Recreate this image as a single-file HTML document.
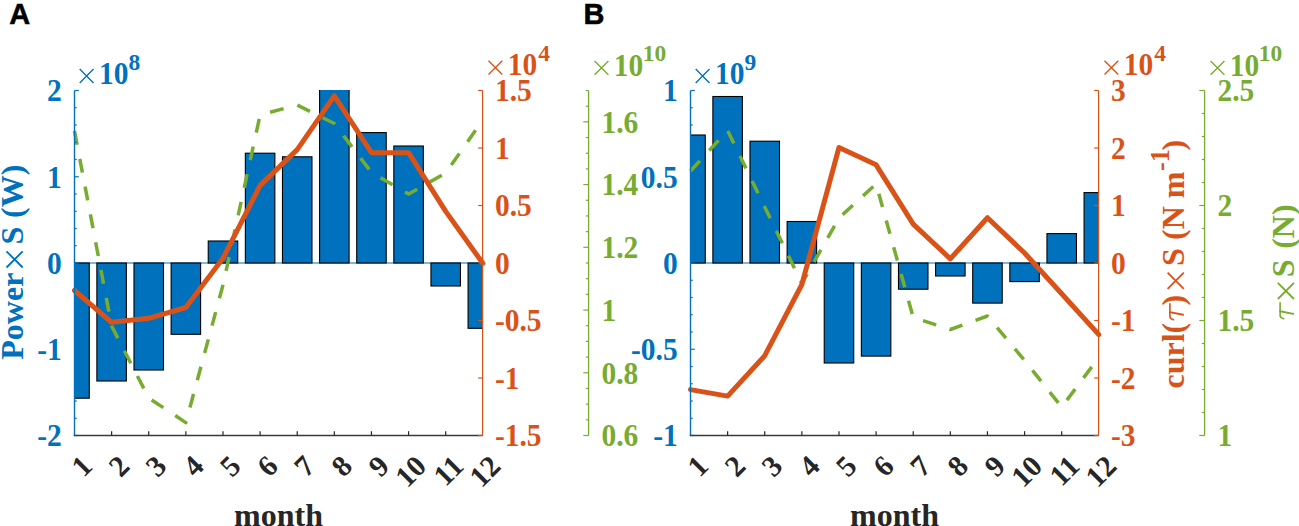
<!DOCTYPE html>
<html><head><meta charset="utf-8"><style>
html,body{margin:0;padding:0;background:#fff;overflow:hidden;}
svg{display:block;}
text{font-family:"Liberation Serif",serif;font-weight:bold;}
</style></head><body>
<svg width="1299" height="526" viewBox="0 0 1299 526">
<rect width="1299" height="526" fill="#fff"/>
<line x1="74.5" y1="263" x2="482.6" y2="263" stroke="#0072BD" stroke-width="1.1"/><g clip-path="url(#clipA)"><rect x="59.75" y="263" width="29.5" height="135.2" fill="#0072BD" stroke="#000" stroke-width="1.1"/><rect x="96.87" y="263" width="29.5" height="118" fill="#0072BD" stroke="#000" stroke-width="1.1"/><rect x="133.99" y="263" width="29.5" height="107" fill="#0072BD" stroke="#000" stroke-width="1.1"/><rect x="171.11" y="263" width="29.5" height="71.3" fill="#0072BD" stroke="#000" stroke-width="1.1"/><rect x="208.23" y="241" width="29.5" height="22" fill="#0072BD" stroke="#000" stroke-width="1.1"/><rect x="245.35" y="153.2" width="29.5" height="109.8" fill="#0072BD" stroke="#000" stroke-width="1.1"/><rect x="282.47" y="156.8" width="29.5" height="106.2" fill="#0072BD" stroke="#000" stroke-width="1.1"/><rect x="319.59" y="80" width="29.5" height="183" fill="#0072BD" stroke="#000" stroke-width="1.1"/><rect x="356.71" y="132.6" width="29.5" height="130.4" fill="#0072BD" stroke="#000" stroke-width="1.1"/><rect x="393.83" y="146" width="29.5" height="117" fill="#0072BD" stroke="#000" stroke-width="1.1"/><rect x="430.95" y="263" width="29.5" height="23" fill="#0072BD" stroke="#000" stroke-width="1.1"/><rect x="468.07" y="263" width="29.5" height="65.3" fill="#0072BD" stroke="#000" stroke-width="1.1"/></g><clipPath id="clipA"><rect x="74.5" y="90" width="408.1" height="346"/></clipPath><polyline points="74.5,131 111.62,326 148.74,398 185.86,422.6 222.98,285 260.1,115 297.22,105 334.34,123.5 371.46,172.5 408.58,194 445.7,173 482.82,120" fill="none" stroke="#77AC30" stroke-width="3.5" stroke-dasharray="14 14.3" stroke-linejoin="round"/><polyline points="74.5,290.5 111.62,322.3 148.74,318.3 185.86,307.5 222.98,258.3 260.1,185.4 297.22,149.6 334.34,95.8 371.46,152.7 408.58,152.7 445.7,211.4 482.82,263.3" fill="none" stroke="#D95319" stroke-width="5" stroke-linejoin="round" stroke-linecap="round"/><text x="0" y="10" transform="translate(86.9 460.8) rotate(-45)" text-anchor="end" font-size="29.5" fill="#262626">1</text><text x="0" y="10" transform="translate(124.02 460.8) rotate(-45)" text-anchor="end" font-size="29.5" fill="#262626">2</text><text x="0" y="10" transform="translate(161.14 460.8) rotate(-45)" text-anchor="end" font-size="29.5" fill="#262626">3</text><text x="0" y="10" transform="translate(198.26 460.8) rotate(-45)" text-anchor="end" font-size="29.5" fill="#262626">4</text><text x="0" y="10" transform="translate(235.38 460.8) rotate(-45)" text-anchor="end" font-size="29.5" fill="#262626">5</text><text x="0" y="10" transform="translate(272.5 460.8) rotate(-45)" text-anchor="end" font-size="29.5" fill="#262626">6</text><text x="0" y="10" transform="translate(309.62 460.8) rotate(-45)" text-anchor="end" font-size="29.5" fill="#262626">7</text><text x="0" y="10" transform="translate(346.74 460.8) rotate(-45)" text-anchor="end" font-size="29.5" fill="#262626">8</text><text x="0" y="10" transform="translate(383.86 460.8) rotate(-45)" text-anchor="end" font-size="29.5" fill="#262626">9</text><text x="0" y="10" transform="translate(420.98 460.8) rotate(-45)" text-anchor="end" font-size="29.5" fill="#262626">10</text><text x="0" y="10" transform="translate(458.1 460.8) rotate(-45)" text-anchor="end" font-size="29.5" fill="#262626">11</text><text x="0" y="10" transform="translate(495.22 460.8) rotate(-45)" text-anchor="end" font-size="29.5" fill="#262626">12</text><text x="278.55" y="526" text-anchor="middle" font-size="32" fill="#262626">month</text><line x1="74.5" y1="90.5" x2="74.5" y2="435.5" stroke="#0072BD" stroke-width="1.4"/><line x1="74.5" y1="435.5" x2="78.8" y2="435.5" stroke="#0072BD" stroke-width="1.2"/><line x1="74.5" y1="418.25" x2="76.7" y2="418.25" stroke="#0072BD" stroke-width="1.2"/><line x1="74.5" y1="401" x2="76.7" y2="401" stroke="#0072BD" stroke-width="1.2"/><line x1="74.5" y1="383.75" x2="76.7" y2="383.75" stroke="#0072BD" stroke-width="1.2"/><line x1="74.5" y1="366.5" x2="76.7" y2="366.5" stroke="#0072BD" stroke-width="1.2"/><line x1="74.5" y1="349.25" x2="78.8" y2="349.25" stroke="#0072BD" stroke-width="1.2"/><line x1="74.5" y1="332" x2="76.7" y2="332" stroke="#0072BD" stroke-width="1.2"/><line x1="74.5" y1="314.75" x2="76.7" y2="314.75" stroke="#0072BD" stroke-width="1.2"/><line x1="74.5" y1="297.5" x2="76.7" y2="297.5" stroke="#0072BD" stroke-width="1.2"/><line x1="74.5" y1="280.25" x2="76.7" y2="280.25" stroke="#0072BD" stroke-width="1.2"/><line x1="74.5" y1="263" x2="78.8" y2="263" stroke="#0072BD" stroke-width="1.2"/><line x1="74.5" y1="245.75" x2="76.7" y2="245.75" stroke="#0072BD" stroke-width="1.2"/><line x1="74.5" y1="228.5" x2="76.7" y2="228.5" stroke="#0072BD" stroke-width="1.2"/><line x1="74.5" y1="211.25" x2="76.7" y2="211.25" stroke="#0072BD" stroke-width="1.2"/><line x1="74.5" y1="194" x2="76.7" y2="194" stroke="#0072BD" stroke-width="1.2"/><line x1="74.5" y1="176.75" x2="78.8" y2="176.75" stroke="#0072BD" stroke-width="1.2"/><line x1="74.5" y1="159.5" x2="76.7" y2="159.5" stroke="#0072BD" stroke-width="1.2"/><line x1="74.5" y1="142.25" x2="76.7" y2="142.25" stroke="#0072BD" stroke-width="1.2"/><line x1="74.5" y1="125" x2="76.7" y2="125" stroke="#0072BD" stroke-width="1.2"/><line x1="74.5" y1="107.75" x2="76.7" y2="107.75" stroke="#0072BD" stroke-width="1.2"/><line x1="74.5" y1="90.5" x2="78.8" y2="90.5" stroke="#0072BD" stroke-width="1.2"/><text transform="translate(61.7 101.3) scale(1 1.07)" text-anchor="end" font-size="29.5" fill="#0072BD">2</text><text transform="translate(61.7 187.55) scale(1 1.07)" text-anchor="end" font-size="29.5" fill="#0072BD">1</text><text transform="translate(61.7 273.8) scale(1 1.07)" text-anchor="end" font-size="29.5" fill="#0072BD">0</text><text transform="translate(61.7 360.05) scale(1 1.07)" text-anchor="end" font-size="29.5" fill="#0072BD">-1</text><text transform="translate(61.7 446.3) scale(1 1.07)" text-anchor="end" font-size="29.5" fill="#0072BD">-2</text><line x1="73.8" y1="435.5" x2="482.6" y2="435.5" stroke="#3a3a3a" stroke-width="1.5"/><line x1="111.62" y1="435.5" x2="111.62" y2="431.2" stroke="#262626" stroke-width="1.2"/><line x1="148.74" y1="435.5" x2="148.74" y2="431.2" stroke="#262626" stroke-width="1.2"/><line x1="185.86" y1="435.5" x2="185.86" y2="431.2" stroke="#262626" stroke-width="1.2"/><line x1="222.98" y1="435.5" x2="222.98" y2="431.2" stroke="#262626" stroke-width="1.2"/><line x1="260.1" y1="435.5" x2="260.1" y2="431.2" stroke="#262626" stroke-width="1.2"/><line x1="297.22" y1="435.5" x2="297.22" y2="431.2" stroke="#262626" stroke-width="1.2"/><line x1="334.34" y1="435.5" x2="334.34" y2="431.2" stroke="#262626" stroke-width="1.2"/><line x1="371.46" y1="435.5" x2="371.46" y2="431.2" stroke="#262626" stroke-width="1.2"/><line x1="408.58" y1="435.5" x2="408.58" y2="431.2" stroke="#262626" stroke-width="1.2"/><line x1="445.7" y1="435.5" x2="445.7" y2="431.2" stroke="#262626" stroke-width="1.2"/><line x1="482.6" y1="90.5" x2="482.6" y2="435.5" stroke="#D95319" stroke-width="1.2"/><line x1="482.6" y1="435.5" x2="478.2" y2="435.5" stroke="#D95319" stroke-width="1.2"/><line x1="482.6" y1="378" x2="478.2" y2="378" stroke="#D95319" stroke-width="1.2"/><line x1="482.6" y1="320.5" x2="478.2" y2="320.5" stroke="#D95319" stroke-width="1.2"/><line x1="482.6" y1="263" x2="478.2" y2="263" stroke="#D95319" stroke-width="1.2"/><line x1="482.6" y1="205.5" x2="478.2" y2="205.5" stroke="#D95319" stroke-width="1.2"/><line x1="482.6" y1="148" x2="478.2" y2="148" stroke="#D95319" stroke-width="1.2"/><line x1="482.6" y1="90.5" x2="478.2" y2="90.5" stroke="#D95319" stroke-width="1.2"/><text transform="translate(494.9 101.3) scale(1 1.07)" font-size="29.5" fill="#D95319">1.5</text><text transform="translate(494.9 158.8) scale(1 1.07)" font-size="29.5" fill="#D95319">1</text><text transform="translate(494.9 216.3) scale(1 1.07)" font-size="29.5" fill="#D95319">0.5</text><text transform="translate(494.9 273.8) scale(1 1.07)" font-size="29.5" fill="#D95319">0</text><text transform="translate(494.9 331.3) scale(1 1.07)" font-size="29.5" fill="#D95319">-0.5</text><text transform="translate(494.9 388.8) scale(1 1.07)" font-size="29.5" fill="#D95319">-1</text><text transform="translate(494.9 446.3) scale(1 1.07)" font-size="29.5" fill="#D95319">-1.5</text><line x1="588.6" y1="90.5" x2="588.6" y2="435.5" stroke="#77AC30" stroke-width="1.3"/><line x1="588.6" y1="435.5" x2="583.3" y2="435.5" stroke="#77AC30" stroke-width="1.2"/><line x1="588.6" y1="419.82" x2="585.8" y2="419.82" stroke="#77AC30" stroke-width="1.2"/><line x1="588.6" y1="404.14" x2="585.8" y2="404.14" stroke="#77AC30" stroke-width="1.2"/><line x1="588.6" y1="388.45" x2="585.8" y2="388.45" stroke="#77AC30" stroke-width="1.2"/><line x1="588.6" y1="372.77" x2="583.3" y2="372.77" stroke="#77AC30" stroke-width="1.2"/><line x1="588.6" y1="357.09" x2="585.8" y2="357.09" stroke="#77AC30" stroke-width="1.2"/><line x1="588.6" y1="341.41" x2="585.8" y2="341.41" stroke="#77AC30" stroke-width="1.2"/><line x1="588.6" y1="325.73" x2="585.8" y2="325.73" stroke="#77AC30" stroke-width="1.2"/><line x1="588.6" y1="310.05" x2="583.3" y2="310.05" stroke="#77AC30" stroke-width="1.2"/><line x1="588.6" y1="294.36" x2="585.8" y2="294.36" stroke="#77AC30" stroke-width="1.2"/><line x1="588.6" y1="278.68" x2="585.8" y2="278.68" stroke="#77AC30" stroke-width="1.2"/><line x1="588.6" y1="263" x2="585.8" y2="263" stroke="#77AC30" stroke-width="1.2"/><line x1="588.6" y1="247.32" x2="583.3" y2="247.32" stroke="#77AC30" stroke-width="1.2"/><line x1="588.6" y1="231.64" x2="585.8" y2="231.64" stroke="#77AC30" stroke-width="1.2"/><line x1="588.6" y1="215.95" x2="585.8" y2="215.95" stroke="#77AC30" stroke-width="1.2"/><line x1="588.6" y1="200.27" x2="585.8" y2="200.27" stroke="#77AC30" stroke-width="1.2"/><line x1="588.6" y1="184.59" x2="583.3" y2="184.59" stroke="#77AC30" stroke-width="1.2"/><line x1="588.6" y1="168.91" x2="585.8" y2="168.91" stroke="#77AC30" stroke-width="1.2"/><line x1="588.6" y1="153.23" x2="585.8" y2="153.23" stroke="#77AC30" stroke-width="1.2"/><line x1="588.6" y1="137.55" x2="585.8" y2="137.55" stroke="#77AC30" stroke-width="1.2"/><line x1="588.6" y1="121.86" x2="583.3" y2="121.86" stroke="#77AC30" stroke-width="1.2"/><line x1="588.6" y1="106.18" x2="585.8" y2="106.18" stroke="#77AC30" stroke-width="1.2"/><line x1="588.6" y1="90.5" x2="585.8" y2="90.5" stroke="#77AC30" stroke-width="1.2"/><text transform="translate(601.4 132.66) scale(1 1.07)" font-size="29.5" fill="#77AC30">1.6</text><text transform="translate(601.4 195.39) scale(1 1.07)" font-size="29.5" fill="#77AC30">1.4</text><text transform="translate(601.4 258.12) scale(1 1.07)" font-size="29.5" fill="#77AC30">1.2</text><text transform="translate(601.4 320.85) scale(1 1.07)" font-size="29.5" fill="#77AC30">1</text><text transform="translate(601.4 383.57) scale(1 1.07)" font-size="29.5" fill="#77AC30">0.8</text><text transform="translate(601.4 446.3) scale(1 1.07)" font-size="29.5" fill="#77AC30">0.6</text><path d="M79.7 69.1L93.5 82.9M79.7 82.9L93.5 69.1" stroke="#0072BD" stroke-width="1.35" fill="none" stroke-linecap="butt"/><text transform="translate(98.9 83.7) scale(1 1.07)" font-size="29.5" fill="#0072BD">10</text><text transform="translate(128.4 69.7) scale(1 1.0)" font-size="23.5" fill="#0072BD">8</text><path d="M488.5 60.7L502.3 74.5M488.5 74.5L502.3 60.7" stroke="#D95319" stroke-width="1.35" fill="none" stroke-linecap="butt"/><text transform="translate(507.7 75.3) scale(1 1.07)" font-size="29.5" fill="#D95319">10</text><text transform="translate(538.2 61) scale(1 1.0)" font-size="23.5" fill="#D95319">4</text><path d="M594.6 61L608.4 74.8M594.6 74.8L608.4 61" stroke="#77AC30" stroke-width="1.35" fill="none" stroke-linecap="butt"/><text transform="translate(613.8 75.6) scale(1 1.07)" font-size="29.5" fill="#77AC30">10</text><text transform="translate(642.8 61.4) scale(1 1.0)" font-size="23.5" fill="#77AC30">10</text><text x="9.2" y="24" style="font-family:'Liberation Sans',sans-serif" font-size="29" fill="#000" stroke="#000" stroke-width="0.5">A</text><line x1="690.5" y1="263" x2="1098.6" y2="263" stroke="#0072BD" stroke-width="1.1"/><g clip-path="url(#clipB)"><rect x="675.75" y="135" width="29.5" height="128" fill="#0072BD" stroke="#000" stroke-width="1.1"/><rect x="712.87" y="96.5" width="29.5" height="166.5" fill="#0072BD" stroke="#000" stroke-width="1.1"/><rect x="749.99" y="141.2" width="29.5" height="121.8" fill="#0072BD" stroke="#000" stroke-width="1.1"/><rect x="787.11" y="221.5" width="29.5" height="41.5" fill="#0072BD" stroke="#000" stroke-width="1.1"/><rect x="824.23" y="263" width="29.5" height="100" fill="#0072BD" stroke="#000" stroke-width="1.1"/><rect x="861.35" y="263" width="29.5" height="93.1" fill="#0072BD" stroke="#000" stroke-width="1.1"/><rect x="898.47" y="263" width="29.5" height="26.2" fill="#0072BD" stroke="#000" stroke-width="1.1"/><rect x="935.59" y="263" width="29.5" height="13" fill="#0072BD" stroke="#000" stroke-width="1.1"/><rect x="972.71" y="263" width="29.5" height="40.1" fill="#0072BD" stroke="#000" stroke-width="1.1"/><rect x="1009.83" y="263" width="29.5" height="18.6" fill="#0072BD" stroke="#000" stroke-width="1.1"/><rect x="1046.95" y="233.6" width="29.5" height="29.4" fill="#0072BD" stroke="#000" stroke-width="1.1"/><rect x="1084.07" y="192.6" width="29.5" height="70.4" fill="#0072BD" stroke="#000" stroke-width="1.1"/></g><clipPath id="clipB"><rect x="690.5" y="90" width="408.1" height="346"/></clipPath><polyline points="690.5,171 727.62,130.5 764.74,207 801.86,283.5 838.98,218 876.1,184 913.22,317.5 950.34,329.5 987.46,316 1024.58,360.5 1061.7,407 1098.82,357.5" fill="none" stroke="#77AC30" stroke-width="3.5" stroke-dasharray="13.8 13.95" stroke-linejoin="round"/><polyline points="690.5,389.6 727.62,396.1 764.74,355.7 801.86,284.5 838.98,147.5 876.1,164.8 913.22,224.1 950.34,258.8 987.46,217.7 1024.58,253 1061.7,293.8 1098.82,334.6" fill="none" stroke="#D95319" stroke-width="5" stroke-linejoin="round" stroke-linecap="round"/><text x="0" y="10" transform="translate(702.9 460.8) rotate(-45)" text-anchor="end" font-size="29.5" fill="#262626">1</text><text x="0" y="10" transform="translate(740.02 460.8) rotate(-45)" text-anchor="end" font-size="29.5" fill="#262626">2</text><text x="0" y="10" transform="translate(777.14 460.8) rotate(-45)" text-anchor="end" font-size="29.5" fill="#262626">3</text><text x="0" y="10" transform="translate(814.26 460.8) rotate(-45)" text-anchor="end" font-size="29.5" fill="#262626">4</text><text x="0" y="10" transform="translate(851.38 460.8) rotate(-45)" text-anchor="end" font-size="29.5" fill="#262626">5</text><text x="0" y="10" transform="translate(888.5 460.8) rotate(-45)" text-anchor="end" font-size="29.5" fill="#262626">6</text><text x="0" y="10" transform="translate(925.62 460.8) rotate(-45)" text-anchor="end" font-size="29.5" fill="#262626">7</text><text x="0" y="10" transform="translate(962.74 460.8) rotate(-45)" text-anchor="end" font-size="29.5" fill="#262626">8</text><text x="0" y="10" transform="translate(999.86 460.8) rotate(-45)" text-anchor="end" font-size="29.5" fill="#262626">9</text><text x="0" y="10" transform="translate(1036.98 460.8) rotate(-45)" text-anchor="end" font-size="29.5" fill="#262626">10</text><text x="0" y="10" transform="translate(1074.1 460.8) rotate(-45)" text-anchor="end" font-size="29.5" fill="#262626">11</text><text x="0" y="10" transform="translate(1111.22 460.8) rotate(-45)" text-anchor="end" font-size="29.5" fill="#262626">12</text><text x="894.55" y="526" text-anchor="middle" font-size="32" fill="#262626">month</text><line x1="690.5" y1="90.5" x2="690.5" y2="435.5" stroke="#0072BD" stroke-width="1.4"/><line x1="690.5" y1="435.5" x2="694.8" y2="435.5" stroke="#0072BD" stroke-width="1.2"/><line x1="690.5" y1="418.25" x2="692.7" y2="418.25" stroke="#0072BD" stroke-width="1.2"/><line x1="690.5" y1="401" x2="692.7" y2="401" stroke="#0072BD" stroke-width="1.2"/><line x1="690.5" y1="383.75" x2="692.7" y2="383.75" stroke="#0072BD" stroke-width="1.2"/><line x1="690.5" y1="366.5" x2="692.7" y2="366.5" stroke="#0072BD" stroke-width="1.2"/><line x1="690.5" y1="349.25" x2="694.8" y2="349.25" stroke="#0072BD" stroke-width="1.2"/><line x1="690.5" y1="332" x2="692.7" y2="332" stroke="#0072BD" stroke-width="1.2"/><line x1="690.5" y1="314.75" x2="692.7" y2="314.75" stroke="#0072BD" stroke-width="1.2"/><line x1="690.5" y1="297.5" x2="692.7" y2="297.5" stroke="#0072BD" stroke-width="1.2"/><line x1="690.5" y1="280.25" x2="692.7" y2="280.25" stroke="#0072BD" stroke-width="1.2"/><line x1="690.5" y1="263" x2="694.8" y2="263" stroke="#0072BD" stroke-width="1.2"/><line x1="690.5" y1="245.75" x2="692.7" y2="245.75" stroke="#0072BD" stroke-width="1.2"/><line x1="690.5" y1="228.5" x2="692.7" y2="228.5" stroke="#0072BD" stroke-width="1.2"/><line x1="690.5" y1="211.25" x2="692.7" y2="211.25" stroke="#0072BD" stroke-width="1.2"/><line x1="690.5" y1="194" x2="692.7" y2="194" stroke="#0072BD" stroke-width="1.2"/><line x1="690.5" y1="176.75" x2="694.8" y2="176.75" stroke="#0072BD" stroke-width="1.2"/><line x1="690.5" y1="159.5" x2="692.7" y2="159.5" stroke="#0072BD" stroke-width="1.2"/><line x1="690.5" y1="142.25" x2="692.7" y2="142.25" stroke="#0072BD" stroke-width="1.2"/><line x1="690.5" y1="125" x2="692.7" y2="125" stroke="#0072BD" stroke-width="1.2"/><line x1="690.5" y1="107.75" x2="692.7" y2="107.75" stroke="#0072BD" stroke-width="1.2"/><line x1="690.5" y1="90.5" x2="694.8" y2="90.5" stroke="#0072BD" stroke-width="1.2"/><text transform="translate(677.7 101.3) scale(1 1.07)" text-anchor="end" font-size="29.5" fill="#0072BD">1</text><text transform="translate(677.7 187.55) scale(1 1.07)" text-anchor="end" font-size="29.5" fill="#0072BD">0.5</text><text transform="translate(677.7 273.8) scale(1 1.07)" text-anchor="end" font-size="29.5" fill="#0072BD">0</text><text transform="translate(677.7 360.05) scale(1 1.07)" text-anchor="end" font-size="29.5" fill="#0072BD">-0.5</text><text transform="translate(677.7 446.3) scale(1 1.07)" text-anchor="end" font-size="29.5" fill="#0072BD">-1</text><line x1="689.8" y1="435.5" x2="1098.6" y2="435.5" stroke="#3a3a3a" stroke-width="1.5"/><line x1="727.62" y1="435.5" x2="727.62" y2="431.2" stroke="#262626" stroke-width="1.2"/><line x1="764.74" y1="435.5" x2="764.74" y2="431.2" stroke="#262626" stroke-width="1.2"/><line x1="801.86" y1="435.5" x2="801.86" y2="431.2" stroke="#262626" stroke-width="1.2"/><line x1="838.98" y1="435.5" x2="838.98" y2="431.2" stroke="#262626" stroke-width="1.2"/><line x1="876.1" y1="435.5" x2="876.1" y2="431.2" stroke="#262626" stroke-width="1.2"/><line x1="913.22" y1="435.5" x2="913.22" y2="431.2" stroke="#262626" stroke-width="1.2"/><line x1="950.34" y1="435.5" x2="950.34" y2="431.2" stroke="#262626" stroke-width="1.2"/><line x1="987.46" y1="435.5" x2="987.46" y2="431.2" stroke="#262626" stroke-width="1.2"/><line x1="1024.58" y1="435.5" x2="1024.58" y2="431.2" stroke="#262626" stroke-width="1.2"/><line x1="1061.7" y1="435.5" x2="1061.7" y2="431.2" stroke="#262626" stroke-width="1.2"/><line x1="1098.6" y1="90.5" x2="1098.6" y2="435.5" stroke="#D95319" stroke-width="1.2"/><line x1="1098.6" y1="435.5" x2="1094.2" y2="435.5" stroke="#D95319" stroke-width="1.2"/><line x1="1098.6" y1="378" x2="1094.2" y2="378" stroke="#D95319" stroke-width="1.2"/><line x1="1098.6" y1="320.5" x2="1094.2" y2="320.5" stroke="#D95319" stroke-width="1.2"/><line x1="1098.6" y1="263" x2="1094.2" y2="263" stroke="#D95319" stroke-width="1.2"/><line x1="1098.6" y1="205.5" x2="1094.2" y2="205.5" stroke="#D95319" stroke-width="1.2"/><line x1="1098.6" y1="148" x2="1094.2" y2="148" stroke="#D95319" stroke-width="1.2"/><line x1="1098.6" y1="90.5" x2="1094.2" y2="90.5" stroke="#D95319" stroke-width="1.2"/><text transform="translate(1110.9 101.3) scale(1 1.07)" font-size="29.5" fill="#D95319">3</text><text transform="translate(1110.9 158.8) scale(1 1.07)" font-size="29.5" fill="#D95319">2</text><text transform="translate(1110.9 216.3) scale(1 1.07)" font-size="29.5" fill="#D95319">1</text><text transform="translate(1110.9 273.8) scale(1 1.07)" font-size="29.5" fill="#D95319">0</text><text transform="translate(1110.9 331.3) scale(1 1.07)" font-size="29.5" fill="#D95319">-1</text><text transform="translate(1110.9 388.8) scale(1 1.07)" font-size="29.5" fill="#D95319">-2</text><text transform="translate(1110.9 446.3) scale(1 1.07)" font-size="29.5" fill="#D95319">-3</text><line x1="1204.6" y1="90.5" x2="1204.6" y2="435.5" stroke="#77AC30" stroke-width="1.3"/><line x1="1204.6" y1="435.5" x2="1199.3" y2="435.5" stroke="#77AC30" stroke-width="1.2"/><line x1="1204.6" y1="412.5" x2="1201.8" y2="412.5" stroke="#77AC30" stroke-width="1.2"/><line x1="1204.6" y1="389.5" x2="1201.8" y2="389.5" stroke="#77AC30" stroke-width="1.2"/><line x1="1204.6" y1="366.5" x2="1201.8" y2="366.5" stroke="#77AC30" stroke-width="1.2"/><line x1="1204.6" y1="343.5" x2="1201.8" y2="343.5" stroke="#77AC30" stroke-width="1.2"/><line x1="1204.6" y1="320.5" x2="1199.3" y2="320.5" stroke="#77AC30" stroke-width="1.2"/><line x1="1204.6" y1="297.5" x2="1201.8" y2="297.5" stroke="#77AC30" stroke-width="1.2"/><line x1="1204.6" y1="274.5" x2="1201.8" y2="274.5" stroke="#77AC30" stroke-width="1.2"/><line x1="1204.6" y1="251.5" x2="1201.8" y2="251.5" stroke="#77AC30" stroke-width="1.2"/><line x1="1204.6" y1="228.5" x2="1201.8" y2="228.5" stroke="#77AC30" stroke-width="1.2"/><line x1="1204.6" y1="205.5" x2="1199.3" y2="205.5" stroke="#77AC30" stroke-width="1.2"/><line x1="1204.6" y1="182.5" x2="1201.8" y2="182.5" stroke="#77AC30" stroke-width="1.2"/><line x1="1204.6" y1="159.5" x2="1201.8" y2="159.5" stroke="#77AC30" stroke-width="1.2"/><line x1="1204.6" y1="136.5" x2="1201.8" y2="136.5" stroke="#77AC30" stroke-width="1.2"/><line x1="1204.6" y1="113.5" x2="1201.8" y2="113.5" stroke="#77AC30" stroke-width="1.2"/><line x1="1204.6" y1="90.5" x2="1199.3" y2="90.5" stroke="#77AC30" stroke-width="1.2"/><text transform="translate(1217.4 101.3) scale(1 1.07)" font-size="29.5" fill="#77AC30">2.5</text><text transform="translate(1217.4 216.3) scale(1 1.07)" font-size="29.5" fill="#77AC30">2</text><text transform="translate(1217.4 331.3) scale(1 1.07)" font-size="29.5" fill="#77AC30">1.5</text><text transform="translate(1217.4 446.3) scale(1 1.07)" font-size="29.5" fill="#77AC30">1</text><path d="M695.7 69.1L709.5 82.9M695.7 82.9L709.5 69.1" stroke="#0072BD" stroke-width="1.35" fill="none" stroke-linecap="butt"/><text transform="translate(714.9 83.7) scale(1 1.07)" font-size="29.5" fill="#0072BD">10</text><text transform="translate(744.4 69.7) scale(1 1.0)" font-size="23.5" fill="#0072BD">9</text><path d="M1104.5 60.7L1118.3 74.5M1104.5 74.5L1118.3 60.7" stroke="#D95319" stroke-width="1.35" fill="none" stroke-linecap="butt"/><text transform="translate(1123.7 75.3) scale(1 1.07)" font-size="29.5" fill="#D95319">10</text><text transform="translate(1154.2 61) scale(1 1.0)" font-size="23.5" fill="#D95319">4</text><path d="M1210.6 61L1224.4 74.8M1210.6 74.8L1224.4 61" stroke="#77AC30" stroke-width="1.35" fill="none" stroke-linecap="butt"/><text transform="translate(1229.8 75.6) scale(1 1.07)" font-size="29.5" fill="#77AC30">10</text><text transform="translate(1258.8 61.4) scale(1 1.0)" font-size="23.5" fill="#77AC30">10</text><text x="583.6" y="24" style="font-family:'Liberation Sans',sans-serif" font-size="29" fill="#000" stroke="#000" stroke-width="0.5">B</text>
<g transform="translate(22.8 359.7) rotate(-90)" fill="#0072BD"><text x="0" y="0" font-size="32" >Power</text><path d="M92.2 -16.3L108.4 -0.1M92.2 -0.1L108.4 -16.3" stroke="#0072BD" stroke-width="1.8" fill="none" stroke-linecap="butt"/><text x="115.3" y="0" font-size="32" >S</text><text x="141.8" y="0" font-size="32" >(W)</text></g><g transform="translate(1183.8 388.5) rotate(-90)" fill="#D95319"><text x="0" y="0" font-size="32" >curl(</text><path d="M68.8 -10.3Q69.7 -13.9 72 -13.9L84.7 -13.9" stroke="#D95319" stroke-width="1.6" fill="none" stroke-linecap="round"/><path d="M76.4 -13.9L73.7 -0.7" stroke="#D95319" stroke-width="1.9" fill="none" stroke-linecap="round"/><text x="83" y="0" font-size="32" >)</text><path d="M99.7 -16.2L115.9 0M99.7 0L115.9 -16.2" stroke="#D95319" stroke-width="1.8" fill="none" stroke-linecap="butt"/><text x="122.5" y="0" font-size="32" >S</text><text x="148.5" y="0" font-size="32" >(N m</text><text x="217.5" y="-15.3" font-size="26.5" >-1</text><text x="238" y="0" font-size="32" >)</text></g><g transform="translate(1294 319.3) rotate(-90)" fill="#77AC30"><path d="M0.5 -10.3Q1.4 -13.9 3.7 -13.9L16.4 -13.9" stroke="#77AC30" stroke-width="1.6" fill="none" stroke-linecap="round"/><path d="M8.1 -13.9L5.4 -0.7" stroke="#77AC30" stroke-width="1.9" fill="none" stroke-linecap="round"/><path d="M20.3 -16.15L36.4 -0.05M20.3 -0.05L36.4 -16.15" stroke="#77AC30" stroke-width="1.8" fill="none" stroke-linecap="butt"/><text x="42" y="0" font-size="32" >S</text><text x="70.5" y="0" font-size="32" >(N)</text></g>
</svg></body></html>
